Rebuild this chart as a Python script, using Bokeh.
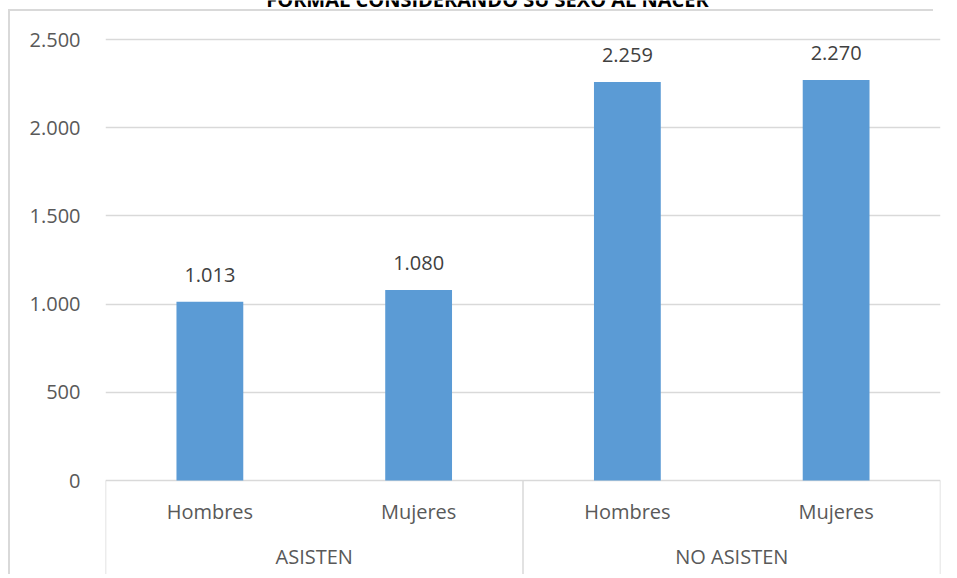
from bokeh.plotting import figure
from bokeh.models import (FactorRange, Range1d, FixedTicker, CustomJSTickFormatter,
                          ColumnDataSource, Label, InlineStyleSheet)
from bokeh.core.properties import value
from bokeh.embed import file_html
from bokeh.resources import INLINE

# ---- data ----
title = "FORMAL CONSIDERANDO SU SEXO AL NACER"
groups = ["ASISTEN", "NO ASISTEN"]
sexes = ["Hombres", "Mujeres"]
counts = [1013, 1080, 2259, 2270]
y_ticks = [0, 500, 1000, 1500, 2000, 2500]

factors = [(g, s) for g in groups for s in sexes]
labels = [f"{v:,}".replace(",", ".") for v in counts]

# ---- style ----
FONT = value("Open Sans")
BAR_COLOR = "#5B9BD5"
GRID_COLOR = "#D9D9D9"
AXIS_TEXT = "#595959"
LABEL_TEXT = "#404040"
FS = "20px"

W, H = 957, 574
TOP_TICK_PX, LEFT, RIGHT = 39, 105, 17
ZERO_PX = 480                     # canvas y of the value 0
ppu = (ZERO_PX - TOP_TICK_PX) / y_ticks[-1]
y_start = -(H - ZERO_PX) / ppu
y_end = y_ticks[-1] + TOP_TICK_PX / ppu

p = figure(width=W, height=H, output_backend="svg", toolbar_location=None,
           x_range=FactorRange(factors=factors, group_padding=0, range_padding=0,
                               factor_padding=0),
           y_range=Range1d(y_start, y_end),
           x_axis_location=None, min_border_top=0, min_border_left=LEFT,
           min_border_right=RIGHT, min_border_bottom=0)
p.stylesheets = [InlineStyleSheet(css=(
    ":host::before { content: ''; position: absolute; left: 8px; top: 9px; width: 925px; height: 0;"
    f" border: none; border-top: 2px solid {GRID_COLOR}; pointer-events: none; z-index: 10; }}"
    f":host::after {{ content: ''; position: absolute; left: 8px; top: 9px; width: 0; height: {H - 9}px;"
    f" border: none; border-left: 2px solid {GRID_COLOR}; pointer-events: none; z-index: 10; }}"))]
p.outline_line_color = None
p.background_fill_color = "white"
p.border_fill_color = "white"

p.xgrid.visible = False
p.ygrid.ticker = FixedTicker(ticks=y_ticks)
p.ygrid.grid_line_color = GRID_COLOR
p.ygrid.grid_line_width = 1.5

ax = p.yaxis[0]
ax.ticker = FixedTicker(ticks=y_ticks)
ax.formatter = CustomJSTickFormatter(
    code="return tick.toString().replace(/\\B(?=(\\d{3})+(?!\\d))/g, '.')")
ax.axis_line_color = None
ax.major_tick_line_color = None
ax.minor_tick_line_color = None
ax.major_label_standoff = 19
ax.major_label_text_font = "Open Sans"
ax.major_label_text_font_size = FS
ax.major_label_text_color = AXIS_TEXT

src = ColumnDataSource(dict(x=factors, top=counts, label=labels))
p.vbar(x="x", top="top", width=0.32, source=src, color=BAR_COLOR, line_color=None)
p.text(x="x", y="top", text="label", source=src, text_font=FONT, text_font_size=FS,
       text_color=LABEL_TEXT, text_align="center", text_baseline="bottom", y_offset=-20)

# category axis separators (left edge, between groups, right edge)
bx = [(groups[0], sexes[0], -0.5), (groups[1], sexes[0], -0.5), (groups[-1], sexes[-1], 0.5)]
p.segment(x0=bx, y0=[0] * 3, x1=bx, y1=[y_start] * 3, line_color=GRID_COLOR, line_width=1.5)

# category labels
p.text(x=factors, y=[0] * len(factors), text=[f[1] for f in factors], text_font=FONT,
       text_font_size=FS, text_color=AXIS_TEXT, text_align="center",
       text_baseline="middle", y_offset=31)
p.text(x=groups, y=[0] * len(groups), text=groups, text_font=FONT,
       text_font_size=FS, text_color=AXIS_TEXT, text_align="center",
       text_baseline="middle", y_offset=76)

# title (cut off at the top edge, as in the source image); screen units are frame-relative
p.add_layout(Label(x=487 - LEFT, y=H + 1, x_units="screen", y_units="screen", text=title,
                   text_font="Open Sans", text_font_style="bold", text_font_size="20px",
                   text_color="black", text_align="center", text_baseline="alphabetic"))

open("out.html", "w").write(file_html(p, INLINE))
